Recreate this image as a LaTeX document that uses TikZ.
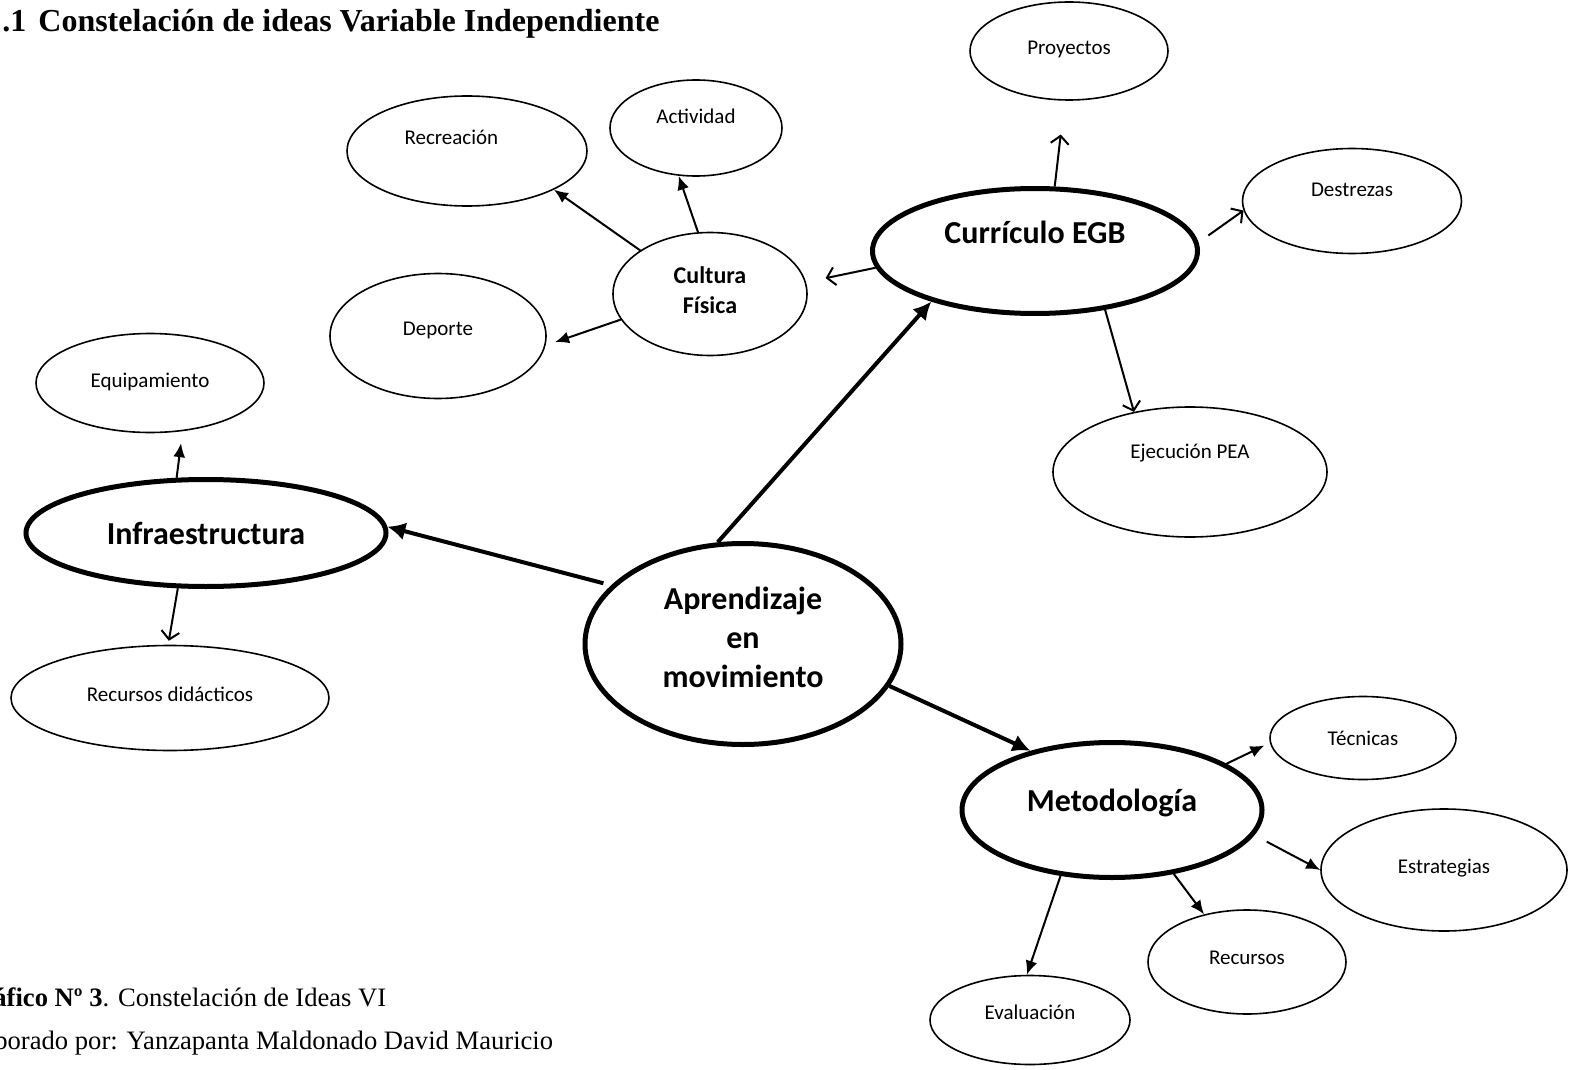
\documentclass[tikz,border=0pt]{standalone}
\usepackage{fontspec}
\setmainfont{Liberation Serif}
\setsansfont{Carlito}
\usetikzlibrary{shapes.geometric,arrows.meta}

\tikzstyle{idea}=[ellipse,draw=black,line width=0.8pt,inner sep=0pt,font=\fontsize{10.5}{12}\sffamily]
\tikzstyle{core}=[ellipse,draw=black,line width=2.5pt,inner sep=0pt,font=\fontsize{16}{19.5}\sffamily\bfseries]
\tikzstyle{fill arrow}=[-{Latex[length=7pt,width=6pt]},line width=1pt]
\tikzstyle{open arrow}=[-{Straight Barb[length=4pt,width=9pt]},line width=1pt]
\tikzstyle{big arrow}=[-{Latex[length=9pt,width=9pt]},line width=2pt]

\begin{document}
\begin{tikzpicture}[x=0.5pt,y=-0.5pt]
	\useasboundingbox (0,0) rectangle (1570,1070);
	\clip (0,0) rectangle (1570,1070);
	%title
	\node[anchor=base west,inner sep=0pt,font=\fontsize{16}{19}\selectfont\bfseries] (title) at (2,32)
	{.1\hspace{6pt}Constelación de ideas Variable Independiente};
	%main ideas
	\node[core,minimum width=158pt,minimum height=100.5pt,align=center,text depth=7pt] (apr) at (743,644) {Aprendizaje\\en\\movimiento};
	\node[core,minimum width=162.5pt,minimum height=62.5pt,text depth=19pt] (curr) at (1035,251) {Currículo EGB};
	\node[core,minimum width=180pt,minimum height=53.5pt] (infra) at (206,533) {Infraestructura};
	\node[core,minimum width=150pt,minimum height=67.5pt,text depth=9.5pt] (met) at (1112,810) {Metodología};
	\node[idea,minimum width=97pt,minimum height=61.5pt,align=center,text depth=4pt,font=\fontsize{12}{15}\sffamily\bfseries] (cult) at (710,294) {Cultura\\Física};
	%sub ideas
	\node[idea,minimum width=99pt,minimum height=49pt,text depth=3pt] (proy) at (1069,51) {Proyectos};
	\node[idea,minimum width=86pt,minimum height=48pt,text depth=12pt] (act) at (696,128) {Actividad};
	\node[idea,minimum width=120pt,minimum height=55pt,text depth=14pt,text width=62.5pt,align=left] (recr) at (467,151) {Recreación};
	\node[idea,minimum width=109.5pt,minimum height=52.5pt,text depth=11pt] (destr) at (1352,201) {Destrezas};
	\node[idea,minimum width=108pt,minimum height=62.5pt,text depth=7pt] (dep) at (438,336) {Deporte};
	\node[idea,minimum width=114pt,minimum height=49.5pt,text depth=3pt] (equip) at (150,383) {Equipamiento};
	\node[idea,minimum width=137pt,minimum height=65pt,text depth=21pt] (ejec) at (1190,472) {Ejecución PEA};
	\node[idea,minimum width=159pt,minimum height=52.5pt,text depth=4pt] (recdid) at (170,698) {Recursos didácticos};
	\node[idea,minimum width=93pt,minimum height=41.5pt] (tec) at (1363,738) {Técnicas};
	\node[idea,minimum width=123pt,minimum height=61pt,text depth=4pt] (estr) at (1444,870) {Estrategias};
	\node[idea,minimum width=99pt,minimum height=52pt,text depth=4.5pt] (recu) at (1247,962) {Recursos};
	\node[idea,minimum width=100pt,minimum height=44.5pt,text depth=8pt] (eval) at (1030,1020) {Evaluación};
	%arrows
	\draw[big arrow,shorten <=4pt] (apr.156) -- (infra.2);
	\draw[big arrow] (apr.104) -- (curr.206);
	\draw[big arrow] (apr.-16) -- (met.144);
	\draw[open arrow,shorten >=10pt] (curr.186) -- (cult.7);
	\draw[open arrow,shorten >=17pt] (curr.73) -- (proy.-95);
	\draw[open arrow,shorten <=6pt] (curr.3) -- (destr.185);
	\draw[open arrow] (curr.-40) -- (ejec.133);
	\draw[fill arrow] (cult.148) -- (recr.-24);
	\draw[fill arrow] (cult.101) -- (act.250);
	\draw[fill arrow,shorten >=5pt] (cult.196) -- (dep.-5);
	\draw[fill arrow,shorten >=6pt] (infra.118) -- (equip.-56);
	\draw[open arrow,shorten >=2pt] (infra.243) -- (recdid.92);
	\draw[fill arrow,shorten >=3pt] (met.22) -- (tec.183);
	\draw[fill arrow,shorten <=7pt] (met.-10) -- (estr.180);
	\draw[fill arrow] (met.-46) -- (recu.132);
	\draw[fill arrow] (met.232) -- (eval.94);
	%caption
	\node[anchor=base west,inner sep=0pt,font=\fontsize{13.3}{15}\selectfont] (fig) at (-7,1006)
	{\textbf{áfico Nº 3}. Constelación de Ideas VI};
	\node[anchor=base west,inner sep=0pt,font=\fontsize{13.3}{15}\selectfont] (author) at (-6,1049)
	{borado por: Yanzapanta Maldonado David Mauricio};
\end{tikzpicture}
\end{document}
